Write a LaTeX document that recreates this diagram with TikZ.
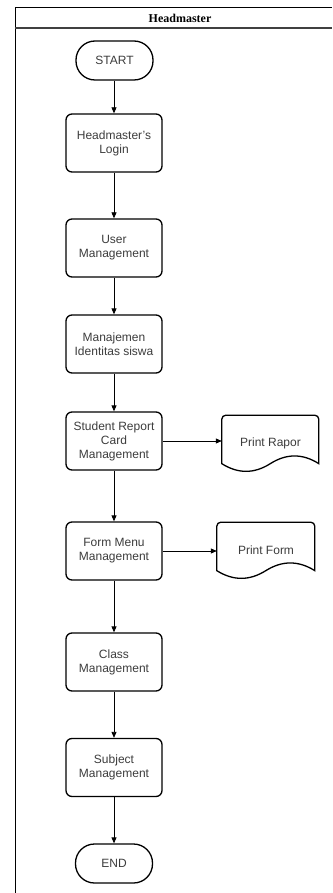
\documentclass[tikz,border=0pt]{standalone}
\usepackage{fontspec}
\setmainfont{Liberation Sans}
\newfontfamily\titlefont{Liberation Serif}
\usetikzlibrary{arrows.meta}
\definecolor{txtgray}{RGB}{60,60,60}
\tikzset{
  proc/.style={draw, line width=1.3pt, rounded corners=6pt, minimum width=96pt, minimum height=58pt,
    align=center, inner sep=0pt, text=txtgray, font=\fontsize{12}{14}\selectfont},
  term/.style={draw, line width=1.3pt, rounded corners=19pt, minimum width=77pt, minimum height=39pt,
    align=center, inner sep=0pt, text=txtgray, font=\fontsize{12}{14}\selectfont},
  docnode/.style={minimum height=57pt, inner sep=0pt, align=center, text=txtgray, font=\fontsize{12}{14}\selectfont},
  docline/.style={line width=1.3pt},
  arr/.style={-{Triangle[length=6pt,width=5pt]}, line width=0.8pt},
}
\newcommand\docoutline[2]{%
  \begin{scope}[shift={(#1.south west)}]
    \draw[docline, rounded corners=4pt] (0,-8.55) -- (0,-57) -- (#2,-57) -- (#2,-40)
      [sharp corners] -- (#2,-8.55)
      .. controls ({5*#2/6},-18.81) and ({2*#2/3},-18.81) .. ({#2/2},-8.55)
      .. controls ({#2/3},1.71) and ({#2/6},1.71) .. (0,-8.55) -- cycle;
  \end{scope}}
\begin{document}
\begin{tikzpicture}[x=1pt,y=-1pt]
\useasboundingbox (0,0) rectangle (332,893);
% pool frame
\draw[line width=1pt] (15,893) -- (15,8) -- (332,8);
\draw[line width=1.3pt, black!75] (15,28) -- (332,28);
\node[font=\titlefont\bfseries\fontsize{12}{14}\selectfont] (title) at (180,18.5) {Headmaster};
% nodes
\node[term] (start) at (114.5,60.5) {START};
\node[proc] (login) at (114,143) {Headmaster's\\Login};
\node[proc] (user) at (114,248) {User\\Management};
\node[proc] (ident) at (114,344) {Manajemen\\Identitas siswa};
\node[proc] (report) at (114,441) {Student Report\\Card\\Management};
\node[proc] (form) at (114,551) {Form Menu\\Management};
\node[proc] (class) at (114,662) {Class\\Management};
\node[proc] (subject) at (114,767.5) {Subject\\Management};
\node[term] (end) at (114,863.5) {END};
\node[docnode, minimum width=97pt] (rapor) at (270.5,443.5) {Print Rapor};
\node[docnode, minimum width=98pt] (pform) at (266,550.5) {Print Form};
\docoutline{rapor}{97}
\docoutline{pform}{98}
% connectors
\draw[arr] (start.south -| login.north) -- (login.north);
\draw[arr] (login) -- (user);
\draw[arr] (user) -- (ident);
\draw[arr] (ident) -- (report);
\draw[arr] (report) -- (form);
\draw[arr] (form) -- (class);
\draw[arr] (class) -- (subject);
\draw[arr] (subject) -- (end);
\draw[arr] (report.east) -- (report.east -| rapor.west);
\draw[arr] (form.east) -- (form.east -| pform.west);
\end{tikzpicture}
\end{document}
